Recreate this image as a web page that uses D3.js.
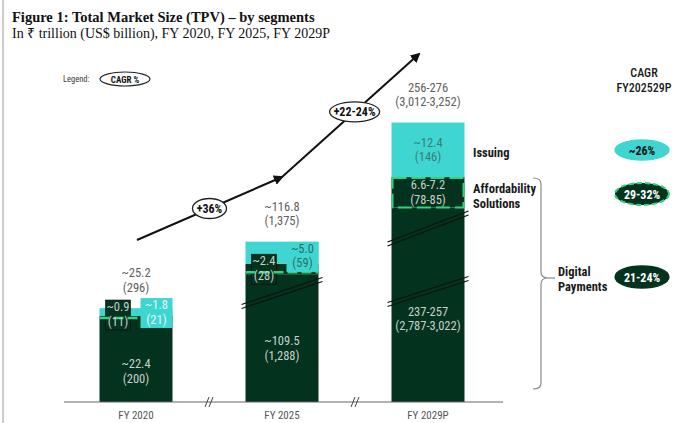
<!DOCTYPE html>
<html>
<head>
<meta charset="utf-8">
<script src="https://cdn.jsdelivr.net/npm/d3@7/dist/d3.min.js"></script>
<style>
  html, body { margin: 0; padding: 0; background: #fff; }
  svg { display: block; }
</style>
</head>
<body>
<svg id="chart" width="694" height="423"></svg>
<script>
// Fiscal years on the x axis
const years = ["FY 2020", "FY 2025", "FY 2029P"];

// Segment values, ₹ trillion (FY 2029P digital payments uses the midpoint of 237-257)
const digitalPayments = [22.4, 109.5, 247];
const affordability   = [0.9, 2.4, 6.9];
const issuing         = [1.8, 5.0, 12.4];

// Printed labels (₹ trillion, US$ billion)
const totalLabels   = ["~25.2", "~116.8", "256-276"];
const totalUsd      = ["(296)", "(1,375)", "(3,012-3,252)"];
const digitalLabels = ["~22.4", "~109.5", "237-257"];
const digitalUsd    = ["(200)", "(1,288)", "(2,787-3,022)"];
const affordLabels  = ["~0.9", "~2.4", "6.6-7.2"];
const affordUsd     = ["(11)", "(28)", "(78-85)"];
const issuingLabels = ["~1.8", "~5.0", "~12.4"];
const issuingUsd    = ["(21)", "(59)", "(146)"];

// Growth between periods and per-segment CAGR FY2025-29P
const periodCagr   = ["+36%", "+22-24%"];
const segmentNames = ["Issuing", "Affordability Solutions", "Digital Payments"];
const segmentCagr  = ["~26%", "29-32%", "21-24%"];

const DARK = "#03331f", CYAN = "#3fd6d1", GREEN = "#2fd47c";
const COND = '"Roboto Condensed", "Liberation Sans Narrow", "DejaVu Sans Condensed", Roboto, sans-serif';

const svg = d3.select("#chart");
const baseY = 402;

// x: one band per fiscal year
const x = d3.scaleBand().domain(years).range([63, 501]).paddingInner(0.5).paddingOuter(0.25);

// Digital payments use a broken (compressed) axis; the small segments a linear one
const yBroken = d3.scaleLinear().domain([0, 25, 110, 250]).range([0, 91.5, 128, 196]);
const ySmall  = d3.scaleLinear().domain([0, 20]).range([0, 88]);

const bars = years.map((yr, i) => {
  const x0 = x(yr), w = x.bandwidth();
  const digitalTop = baseY - yBroken(digitalPayments[i]);
  const affordTop  = digitalTop - ySmall(affordability[i]);
  const issuingTop = affordTop - ySmall(issuing[i]);
  return { yr, i, x0, w, cx: x0 + w / 2, digitalTop, affordTop, issuingTop };
});

// Left frame rule
svg.append("line").attr("x1", 3).attr("x2", 3).attr("y1", 0).attr("y2", 423)
  .attr("stroke", "#9a9a9a").attr("stroke-width", 1);

// Titles
svg.append("text").attr("x", 12).attr("y", 22)
  .attr("font-family", '"Liberation Serif", "Times New Roman", serif')
  .attr("font-weight", "bold").attr("font-size", 14.5).attr("fill", "#111")
  .text("Figure 1: Total Market Size (TPV) – by segments");
svg.append("text").attr("x", 12).attr("y", 38)
  .attr("font-family", '"Liberation Serif", "Times New Roman", serif')
  .attr("font-size", 14).attr("fill", "#111")
  .text("In ₹ trillion (US$ billion), FY 2020, FY 2025, FY 2029P");

// Legend
svg.append("text").attr("x", 63).attr("y", 82).attr("font-family", COND)
  .attr("font-size", 8.5).attr("fill", "#3a3a3a").text("Legend:");
svg.append("ellipse").attr("cx", 125).attr("cy", 79).attr("rx", 25).attr("ry", 7)
  .attr("fill", "#fff").attr("stroke", "#222").attr("stroke-width", 1.2);
svg.append("text").attr("x", 125).attr("y", 82.5).attr("text-anchor", "middle")
  .attr("font-family", COND).attr("font-weight", "bold").attr("font-size", 9).attr("fill", "#111")
  .text("CAGR %");

// Bars
const g = svg.append("g");
bars.forEach(b => {
  // digital payments
  g.append("rect").attr("x", b.x0).attr("y", b.digitalTop).attr("width", b.w)
    .attr("height", baseY - b.digitalTop).attr("fill", DARK);
  // affordability solutions
  g.append("rect").attr("x", b.x0).attr("y", b.affordTop).attr("width", b.w)
    .attr("height", b.digitalTop - b.affordTop).attr("fill", DARK);
  // issuing
  g.append("rect").attr("x", b.x0).attr("y", b.issuingTop).attr("width", b.w)
    .attr("height", b.affordTop - b.issuingTop).attr("fill", CYAN);
});

// Axis break strokes across the digital payments bars (double slanted lines)
function barBreak(b, yLeft, yRight) {
  [0, 4].forEach(off => {
    g.append("line").attr("x1", b.x0 - 4).attr("y1", yLeft + off)
      .attr("x2", b.x0 + b.w + 4).attr("y2", yRight + off)
      .attr("stroke", "#111").attr("stroke-width", 1.3);
  });
}
const low = baseY - yBroken(25), high = baseY - yBroken(110);
barBreak(bars[1], low - 6, low - 33);
barBreak(bars[2], low - 8, low - 34);
barBreak(bars[2], high - 32, high - 63);

// Dashed outline on the affordability segment
bars.forEach(b => {
  const h = b.digitalTop - b.affordTop;
  if (h > 12) {
    g.append("rect").attr("x", b.x0 + 1).attr("y", b.affordTop + 1).attr("width", b.w - 2)
      .attr("height", h - 1).attr("fill", "none").attr("stroke", GREEN)
      .attr("stroke-width", 2).attr("stroke-dasharray", "14,5");
  }
});

// Two-line value labels
function valueText(px, py, lines, color) {
  const t = g.append("text").attr("x", px).attr("y", py).attr("text-anchor", "middle")
    .attr("font-family", COND).attr("font-size", 12.5).attr("fill", color);
  lines.forEach((s, k) => t.append("tspan").attr("x", px).attr("dy", k === 0 ? 0 : 14.5).text(s));
}

// Callout boxes for the thin segments (FY 2020, FY 2025)
bars.forEach(b => {
  if (b.digitalTop - b.affordTop > 12) return;
  const mid = (b.issuingTop + b.digitalTop) / 2;
  // affordability callout (left)
  const dTop = b.digitalTop - 20;
  g.append("rect").attr("x", b.x0 + 6).attr("y", dTop).attr("width", 25).attr("height", 30)
    .attr("fill", DARK).attr("stroke", "#0b0b0b").attr("stroke-width", 0.6);
  // dashed marker between affordability and digital payments
  g.append("line").attr("x1", b.x0).attr("x2", b.x0 + b.w).attr("y1", b.digitalTop - 2).attr("y2", b.digitalTop - 2)
    .attr("stroke", GREEN).attr("stroke-width", 2.5).attr("stroke-dasharray", "10,4");
  // issuing callout (right)
  const cTop = mid - 16;
  g.append("rect").attr("x", b.x0 + 41).attr("y", cTop).attr("width", b.w - 41).attr("height", 30)
    .attr("fill", CYAN);
  valueText(b.x0 + 18.5, dTop + 11, [affordLabels[b.i], affordUsd[b.i]], "#c9cfcb");
  valueText(b.x0 + 41 + (b.w - 41) / 2, cTop + 11, [issuingLabels[b.i], issuingUsd[b.i]],
    b.i === 0 ? "#e3f7f6" : "#2c6f6c");
});

// Labels inside the large segments and totals above each bar
bars.forEach(b => {
  const dY = b.i === 2 ? low + 5 : (b.digitalTop + baseY) / 2 + 7;
  valueText(b.cx, dY, [digitalLabels[b.i], digitalUsd[b.i]], "#c9cfcb");
  if (b.digitalTop - b.affordTop > 12) {
    valueText(b.cx, (b.affordTop + b.digitalTop) / 2 - 3, [affordLabels[b.i], affordUsd[b.i]], "#c9cfcb");
    valueText(b.cx, (b.issuingTop + b.affordTop) / 2 - 3, [issuingLabels[b.i], issuingUsd[b.i]], "#3b7b78");
  }
  valueText(b.cx, b.issuingTop - 31, [totalLabels[b.i], totalUsd[b.i]], "#5e5e5e");
});

// X axis
const axis = svg.append("g").attr("transform", `translate(0,${baseY})`)
  .call(d3.axisBottom(x).tickSize(0).tickPadding(9));
axis.select(".domain").remove();
axis.selectAll("text").attr("font-family", COND).attr("font-size", 11).attr("fill", "#555");
svg.append("line").attr("x1", 64).attr("x2", 503).attr("y1", baseY).attr("y2", baseY)
  .attr("stroke", "#666").attr("stroke-width", 1);
[0, 1].forEach(k => {
  const bx = (x(years[k]) + x.bandwidth() + x(years[k + 1])) / 2;
  [-2, 2].forEach(off => {
    svg.append("line").attr("x1", bx + off - 2).attr("y1", baseY + 5).attr("x2", bx + off + 2).attr("y2", baseY - 5)
      .attr("stroke", "#444").attr("stroke-width", 1);
  });
});

// Growth arrow with period CAGR ovals
const defs = svg.append("defs");
defs.append("marker").attr("id", "arrow").attr("viewBox", "0 0 10 10").attr("refX", 8).attr("refY", 5)
  .attr("markerWidth", 5).attr("markerHeight", 5).attr("orient", "auto")
  .append("path").attr("d", "M0,0 L10,5 L0,10 z").attr("fill", "#111");
const p0 = [137, 240], p1 = [282, 177], p2 = [419, 54];
svg.append("line").attr("x1", p0[0]).attr("y1", p0[1]).attr("x2", p1[0]).attr("y2", p1[1])
  .attr("stroke", "#111").attr("stroke-width", 2).attr("marker-end", "url(#arrow)");
svg.append("line").attr("x1", p1[0]).attr("y1", p1[1]).attr("x2", p2[0]).attr("y2", p2[1])
  .attr("stroke", "#111").attr("stroke-width", 2).attr("marker-end", "url(#arrow)");
function oval(cx, cy, rx, ry, fill, stroke, dash, label, color) {
  svg.append("ellipse").attr("cx", cx).attr("cy", cy).attr("rx", rx).attr("ry", ry)
    .attr("fill", fill).attr("stroke", stroke).attr("stroke-width", dash ? 2 : 1.3)
    .attr("stroke-dasharray", dash || null);
  svg.append("text").attr("x", cx).attr("y", cy + 4.5).attr("text-anchor", "middle")
    .attr("font-family", COND).attr("font-weight", "bold").attr("font-size", 12).attr("fill", color)
    .text(label);
}
const t1 = 0.5, t2 = 0.53;
oval(p0[0] + (p1[0] - p0[0]) * t1, p0[1] + (p1[1] - p0[1]) * t1, 17, 10, "#fff", "#222", null, periodCagr[0], "#111");
oval(p1[0] + (p2[0] - p1[0]) * t2, p1[1] + (p2[1] - p1[1]) * t2, 25, 10, "#fff", "#222", null, periodCagr[1], "#111");

// Segment names and bracket
function nameText(px, py, lines) {
  const t = svg.append("text").attr("x", px).attr("y", py).attr("font-family", COND)
    .attr("font-size", 12.5).attr("font-weight", "bold").attr("fill", "#1a1a1a");
  lines.forEach((s, k) => t.append("tspan").attr("x", px).attr("dy", k === 0 ? 0 : 14.5).text(s));
}
nameText(473, 157, [segmentNames[0]]);
nameText(473, 193, segmentNames[1].split(" "));
nameText(558, 276, segmentNames[2].split(" "));
svg.append("path")
  .attr("d", "M533,178 Q541,178 541,184 L541,272 Q541,278 548,278 Q541,278 541,284 L541,383 Q541,389 533,389")
  .attr("fill", "none").attr("stroke", "#8a8a8a").attr("stroke-width", 1.2);
svg.append("line").attr("x1", 548).attr("x2", 555).attr("y1", 278).attr("y2", 278)
  .attr("stroke", "#8a8a8a").attr("stroke-width", 1.2);

// CAGR column
const head = svg.append("text").attr("x", 644).attr("y", 77).attr("text-anchor", "middle")
  .attr("font-family", COND).attr("font-size", 12).attr("font-weight", 500).attr("fill", "#1a1a1a");
head.append("tspan").attr("x", 644).attr("dy", 0).text("CAGR");
head.append("tspan").attr("x", 644).attr("dy", 14.5).text("FY202529P");
oval(642, 150, 27, 10, CYAN, CYAN, null, segmentCagr[0], "#111");
oval(642, 194, 27, 11, DARK, GREEN, "5,3", segmentCagr[1], "#fff");
oval(642, 277, 27, 11, DARK, DARK, null, segmentCagr[2], "#fff");
</script>
</body>
</html>
